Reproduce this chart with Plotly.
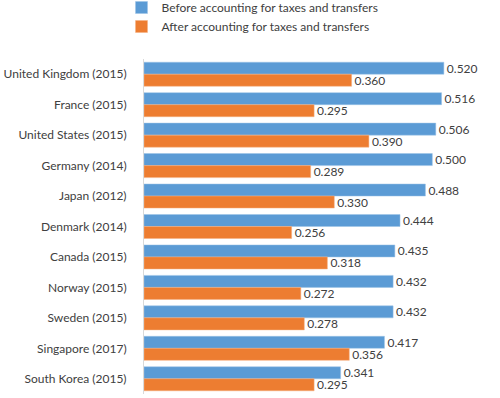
import plotly.graph_objects as go

countries = ["United Kingdom (2015)", "France (2015)", "United States (2015)", "Germany (2014)",
             "Japan (2012)", "Denmark (2014)", "Canada (2015)", "Norway (2015)",
             "Sweden (2015)", "Singapore (2017)", "South Korea (2015)"]
before = [0.520, 0.516, 0.506, 0.500, 0.488, 0.444, 0.435, 0.432, 0.432, 0.417, 0.341]
after = [0.360, 0.295, 0.390, 0.289, 0.330, 0.256, 0.318, 0.272, 0.278, 0.356, 0.295]
series_names = ["Before accounting for taxes and transfers", "After accounting for taxes and transfers"]

FONT = "Lato"
TXT = "#404040"

fig = go.Figure()
fig.add_trace(go.Bar(y=countries, x=before, name=series_names[0], orientation="h",
                     marker=dict(color="#5B9BD5", line=dict(color="#9DC3E6", width=0.5)),
                     text=[f"{v:.3f}" for v in before], textposition="outside",
                     constraintext="none",
                     textfont=dict(family=FONT, size=12, color=TXT), cliponaxis=False))
fig.add_trace(go.Bar(y=countries, x=after, name=series_names[1], orientation="h",
                     marker=dict(color="#ED7D31", line=dict(color="#F4B183", width=0.5)),
                     text=[f"{v:.3f}" for v in after], textposition="outside",
                     constraintext="none",
                     textfont=dict(family=FONT, size=12, color=TXT), cliponaxis=False))

fig.update_layout(
    width=500, height=398,
    margin=dict(l=144, r=10, t=59, b=4, autoexpand=False),
    paper_bgcolor="white", plot_bgcolor="white",
    barmode="group", bargap=0.21, bargroupgap=0,
    font=dict(family=FONT, size=12, color=TXT),
    legend=dict(orientation="v", xref="paper", yref="paper", x=-0.065, y=1.197,
                xanchor="left", yanchor="top", font=dict(family=FONT, size=12, color=TXT),
                tracegroupgap=0, itemwidth=30, bgcolor="rgba(0,0,0,0)"),
    showlegend=True,
)
fig.update_yaxes(autorange="reversed", showgrid=False, showline=True, linecolor="#D9D9D9",
                 linewidth=1, ticks="", ticklabelstandoff=14, automargin=False,
                 tickfont=dict(family=FONT, size=12, color=TXT))
fig.update_xaxes(range=[0, 0.6], showgrid=False, showticklabels=False, zeroline=False,
                 showline=False, automargin=False)

fig.write_html("out.html", config={"displayModeBar": False},
               post_script="document.body.style.margin='0';")
